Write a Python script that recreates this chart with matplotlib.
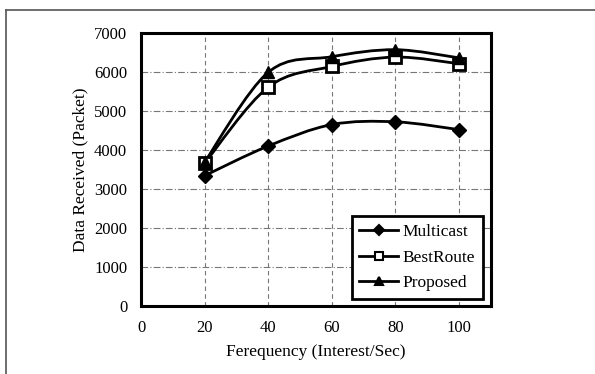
#data received vs interest frequency
import numpy as np
import matplotlib.pyplot as plt
from matplotlib.path import Path
from matplotlib.patches import PathPatch
from matplotlib.lines import Line2D

plt.rcParams['font.family'] = ['Liberation Serif', 'DejaVu Serif']

#data
freq = [20, 40, 60, 80, 100]
multicast = [3340, 4100, 4650, 4720, 4520]
bestroute = [3660, 5610, 6140, 6380, 6210]
proposed = [3690, 5990, 6390, 6570, 6360]

def smooth_path(x, y):
    #catmull-rom style bezier like excel smoothed lines
    x = np.asarray(x, float)
    y = np.asarray(y, float)
    n = len(x)
    verts = [(x[0], y[0])]
    codes = [Path.MOVETO]
    for i in range(n - 1):
        i0 = max(i - 1, 0)
        i3 = min(i + 2, n - 1)
        c1 = (x[i] + (x[i + 1] - x[i0]) / 6, y[i] + (y[i + 1] - y[i0]) / 6)
        c2 = (x[i + 1] - (x[i3] - x[i]) / 6, y[i + 1] - (y[i3] - y[i]) / 6)
        verts += [c1, c2, (x[i + 1], y[i + 1])]
        codes += [Path.CURVE4] * 3
    return Path(verts, codes)

fig = plt.figure(figsize=(5.95, 3.74), dpi=100)
ax = fig.add_axes([0.237, 0.182, 0.588, 0.730])

series = [
    ("Multicast", multicast, dict(marker="D", markersize=7, markerfacecolor="black")),
    ("BestRoute", bestroute, dict(marker="s", markersize=9, markerfacecolor="white", markeredgewidth=2)),
    ("Proposed", proposed, dict(marker="^", markersize=9, markerfacecolor="black")),
]
for name, vals, style in series:
    ax.add_patch(PathPatch(smooth_path(freq, vals), fill=False, edgecolor="black", lw=2, zorder=3))
    ax.plot(freq, vals, linestyle="none", color="black", zorder=4, **style)
    small = dict(style)
    small["markersize"] = style["markersize"] * 0.7
    small["markeredgewidth"] = 1.5
    ax.plot([], [], color="black", lw=2, label=name, **small)

ax.set_xlim(0, 110)
ax.set_ylim(0, 7000)
ax.set_xticks(range(0, 101, 20))
ax.set_yticks(range(0, 7001, 1000))
for v in range(20, 101, 20):
    ax.axvline(v, color="#777777", lw=0.8, linestyle=(0, (4, 3)), zorder=1)
for v in range(1000, 7000, 1000):
    ax.axhline(v, color="#777777", lw=0.8, linestyle=(0, (6, 2, 1, 2)), zorder=1)
ax.tick_params(length=0, labelsize=12, pad=10)
for s in ax.spines.values():
    s.set_linewidth(2.2)
ax.set_xlabel("Ferequency (Interest/Sec)", fontsize=12.5, labelpad=6)
ax.set_ylabel("Data Received (Packet)", fontsize=12.5, labelpad=4)

leg = ax.legend(loc="lower right", bbox_to_anchor=(0.978, 0.025), fontsize=12.5,
                fancybox=False, framealpha=1, edgecolor="black", handlelength=2.2,
                borderpad=0.45, labelspacing=0.55, handletextpad=0.3, borderaxespad=0)
leg.get_frame().set_linewidth(2)

#outer chart frame
fig.add_artist(Line2D([0.010, 1.0], [0.973, 0.973], color="#555555", lw=1.2))
fig.add_artist(Line2D([0.010, 0.010], [0.0, 0.973], color="#555555", lw=1.2))

plt.savefig("out.png", dpi=100)
